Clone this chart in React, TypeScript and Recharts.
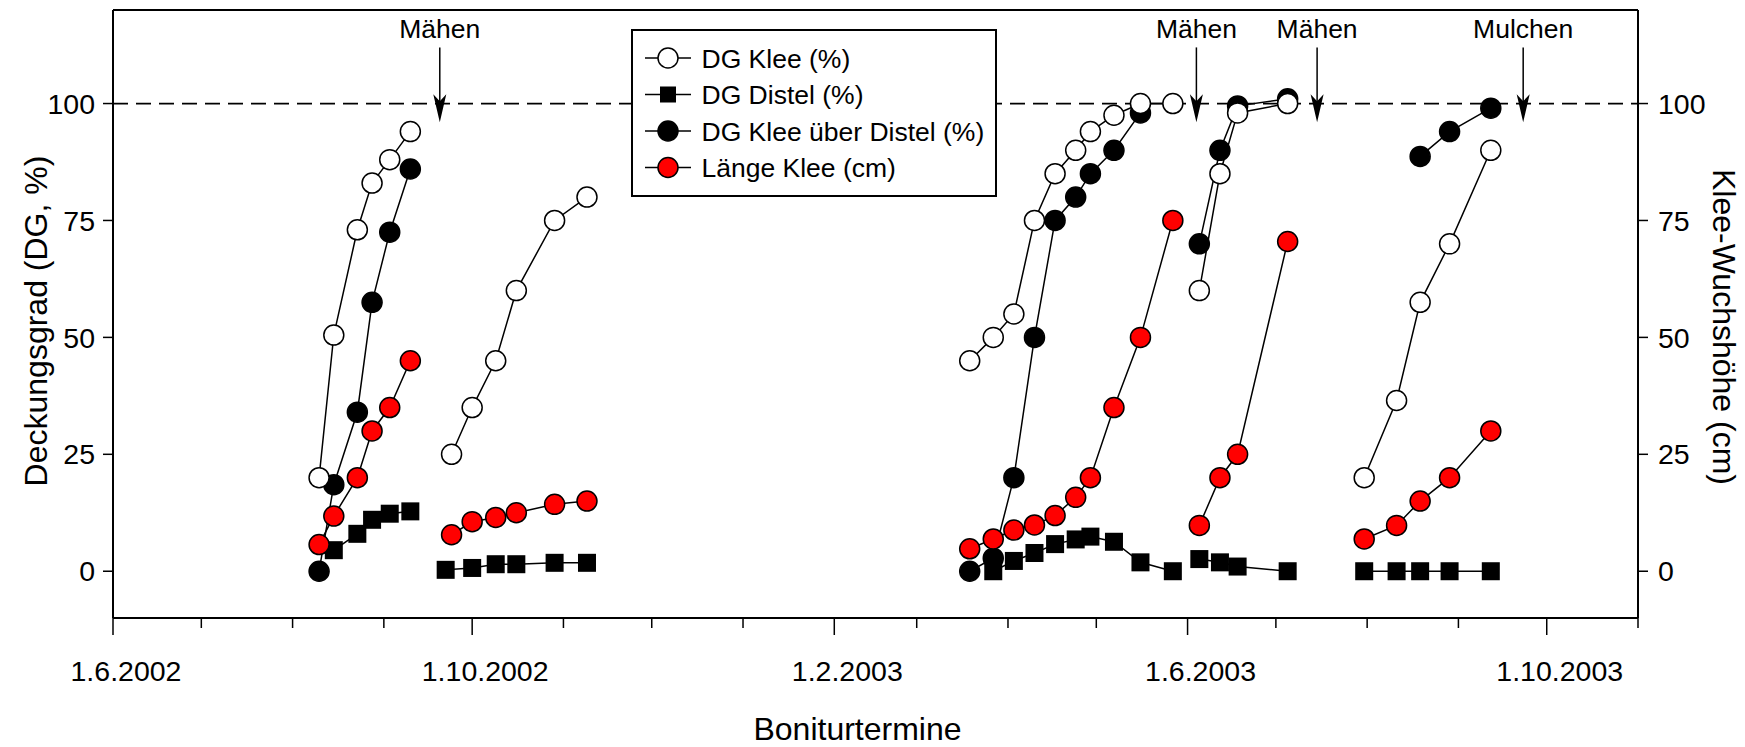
import React from 'react';
import { ComposedChart, Line, XAxis, YAxis, ReferenceLine, Legend } from 'recharts';

const FONT = '"Liberation Sans", Arial, Helvetica, sans-serif';

// ---- sampling dates (Boniturtermine) ----
const dates2002a = ['2002-08-10', '2002-08-15', '2002-08-23', '2002-08-28', '2002-09-03', '2002-09-10'];
const dates2002b = ['2002-09-24', '2002-10-01', '2002-10-09', '2002-10-16', '2002-10-29', '2002-11-09'];
const distelDates2002b = ['2002-09-22', '2002-10-01', '2002-10-09', '2002-10-16', '2002-10-29', '2002-11-09'];
const dates2003a = ['2003-03-19', '2003-03-27', '2003-04-03', '2003-04-10', '2003-04-17', '2003-04-24', '2003-04-29', '2003-05-07', '2003-05-16', '2003-05-27'];
const dates2003b = ['2003-06-05', '2003-06-12', '2003-06-18', '2003-07-05'];
const dates2003c = ['2003-07-31', '2003-08-11', '2003-08-19', '2003-08-29', '2003-09-12'];

// ---- DG Klee (%) ----
const kleeA = [20, 50.5, 73, 83, 88, 94];
const kleeB = [25, 35, 45, 60, 75, 80];
const kleeC = [45, 50, 55, 75, 85, 90, 94, 97.5, 100, 100];
const kleeD = [60, 85, 98, 100];
const kleeE = [20, 36.5, 57.5, 70, 90];

// ---- DG Distel (%) ----
const distelA = [4.5, 8, 11, 12.3, 12.8];
const distelB = [0.3, 0.7, 1.5, 1.5, 1.8, 1.8];
const distelC = [0, 2.2, 3.9, 5.8, 6.8, 7.4, 6.3, 1.9, 0];
const distelD = [2.6, 1.9, 1.0, 0];
const distelE = [0, 0, 0, 0, 0];

// ---- DG Klee über Distel (%) ----
const ueberA = [0, 18.5, 34, 57.5, 72.5, 86];
const ueberC = [0, 2.8, 20, 50, 75, 80, 85, 90, 98];
const ueberD = [70, 90, 99.5, 101];
const ueberE = [88.7, 94, 99];

// ---- Länge Klee (cm) ----
const laengeA = [5.7, 11.8, 20, 30, 35, 45];
const laengeB = [7.8, 10.6, 11.5, 12.5, 14.3, 15];
const laengeC = [4.8, 6.9, 8.8, 9.9, 11.9, 15.8, 20, 35, 50, 75];
const laengeD = [9.8, 20, 25, 70.5];
const laengeE = [6.9, 9.8, 15, 20, 30];

// ---- axes ----
const monthTicks = [
  '2002-06-01', '2002-07-01', '2002-08-01', '2002-09-01', '2002-10-01', '2002-11-01',
  '2002-12-01', '2003-01-01', '2003-02-01', '2003-03-01', '2003-04-01', '2003-05-01',
  '2003-06-01', '2003-07-01', '2003-08-01', '2003-09-01', '2003-10-01', '2003-11-01',
];
const labeledTicks = ['2002-06-01', '2002-10-01', '2003-02-01', '2003-06-01', '2003-10-01'];
const yTicks = [0, 25, 50, 75, 100];
const yDomain = [-10, 120];

// ---- management events ----
const eventDates = ['2002-09-20', '2003-06-04', '2003-07-15', '2003-09-23'];
const eventLabels = ['Mähen', 'Mähen', 'Mähen', 'Mulchen'];

const seriesNames = ['DG Klee (%)', 'DG Distel (%)', 'DG Klee über Distel (%)', 'Länge Klee (cm)'];

const toDay = (s: string) =>
  Date.UTC(Number(s.slice(0, 4)), Number(s.slice(5, 7)) - 1, Number(s.slice(8, 10))) / 86400000;
const seg = (dates: string[], values: number[]) => values.map((v, i) => ({ x: toDay(dates[i]), v }));

const kleeSegs = [seg(dates2002a, kleeA), seg(dates2002b, kleeB), seg(dates2003a, kleeC), seg(dates2003b, kleeD), seg(dates2003c, kleeE)];
const distelSegs = [seg(dates2002a.slice(1), distelA), seg(distelDates2002b, distelB), seg(dates2003a.slice(1), distelC), seg(dates2003b, distelD), seg(dates2003c, distelE)];
const ueberSegs = [seg(dates2002a, ueberA), seg(dates2003a, ueberC), seg(dates2003b, ueberD), seg(dates2003c.slice(2), ueberE)];
const laengeSegs = [seg(dates2002a, laengeA), seg(dates2002b, laengeB), seg(dates2003a, laengeC), seg(dates2003b, laengeD), seg(dates2003c, laengeE)];

const xDomain = [toDay(monthTicks[0]), toDay(monthTicks[monthTicks.length - 1])];
const tickDays = monthTicks.map(toDay);
const labeledDays = labeledTicks.map(toDay);
const fmtDate = (s: string) => `${Number(s.slice(8, 10))}.${Number(s.slice(5, 7))}.${s.slice(0, 4)}`;

const R = 10;

const circleDot = (fill: string) => (p: any) => {
  if (p.cx == null || p.cy == null || p.value == null) return <g key={`e${p.index}`} />;
  return <circle key={`d${p.index}`} cx={p.cx} cy={p.cy} r={R} fill={fill} stroke="#000" strokeWidth={1.5} />;
};
const squareDot = (p: any) => {
  if (p.cx == null || p.cy == null || p.value == null) return <g key={`e${p.index}`} />;
  return <rect key={`s${p.index}`} x={p.cx - 9} y={p.cy - 9} width={18} height={18} fill="#000" />;
};

const XTick = (p: any) => {
  const v = p.payload?.value;
  const idx = labeledDays.indexOf(v);
  const major = idx >= 0;
  return (
    <g>
      <line x1={p.x} x2={p.x} y1={p.y} y2={p.y + (major ? 17 : 10)} stroke="#000" strokeWidth={1.5} />
      {major && (
        <text x={p.x + 13} y={p.y + 63} textAnchor="middle" fontSize={28.5} fontFamily={FONT} fill="#000">
          {fmtDate(labeledTicks[idx])}
        </text>
      )}
    </g>
  );
};

const XTitle = (p: any) => {
  const vb = p.viewBox || { x: 113, y: 618, width: 1525, height: 129 };
  return (
    <text x={vb.x + vb.width / 2 - 18} y={vb.y + 122} textAnchor="middle" fontSize={32} fontFamily={FONT} fill="#000">
      Boniturtermine
    </text>
  );
};
const LeftTitle = (p: any) => {
  const vb = p.viewBox || { x: 0, y: 10, width: 113, height: 608 };
  const cx = vb.x + 47;
  const cy = vb.y + vb.height / 2 + 7;
  return (
    <text x={cx} y={cy} transform={`rotate(-90, ${cx}, ${cy})`} textAnchor="middle" fontSize={32} fontFamily={FONT} fill="#000">
      Deckungsgrad (DG, %)
    </text>
  );
};
const RightTitle = (p: any) => {
  const vb = p.viewBox || { x: 1638, y: 10, width: 107, height: 608 };
  const cx = vb.x + 75;
  const cy = vb.y + vb.height / 2 + 13;
  return (
    <text x={cx} y={cy} transform={`rotate(90, ${cx}, ${cy})`} textAnchor="middle" fontSize={32} fontFamily={FONT} fill="#000">
      Klee-Wuchshöhe (cm)
    </text>
  );
};

const arrowShape = (label: string) => (p: any) => {
  const { x1, y1, x2, y2 } = p;
  if (x1 == null) return <g />;
  return (
    <g>
      <line x1={x1} y1={y1} x2={x2} y2={y2 - 10} stroke="#000" strokeWidth={1.5} />
      <polygon
        points={`${x2 - 6.5},${y2 - 28} ${x2},${y2 - 21} ${x2 + 6.5},${y2 - 28} ${x2},${y2}`}
        fill="#000"
      />
      <text x={x1} y={y1 - 9} textAnchor="middle" fontSize={26.5} fontFamily={FONT} fill="#000">
        {label}
      </text>
    </g>
  );
};

const legendSymbols = [
  (cx: number, cy: number) => <circle cx={cx} cy={cy} r={R} fill="#fff" stroke="#000" strokeWidth={1.5} />,
  (cx: number, cy: number) => <rect x={cx - 8} y={cy - 8} width={16} height={16} fill="#000" />,
  (cx: number, cy: number) => <circle cx={cx} cy={cy} r={R} fill="#000" stroke="#000" strokeWidth={1.5} />,
  (cx: number, cy: number) => <circle cx={cx} cy={cy} r={R} fill="#ff0000" stroke="#000" strokeWidth={1.5} />,
];

const LegendBox = () => (
  <div style={{ width: 366, height: 168, boxSizing: 'border-box', border: '2px solid #000', background: '#fff' }}>
    <svg width={362} height={164} style={{ display: 'block' }}>
      {seriesNames.map((name, i) => {
        const cy = 27 + i * 36.5;
        return (
          <g key={name}>
            <line x1={12} x2={58} y1={cy} y2={cy} stroke="#000" strokeWidth={1.5} />
            {legendSymbols[i](35, cy)}
            <text x={68.5} y={cy + 9.5} fontSize={26.5} fontFamily={FONT} fill="#000">
              {name}
            </text>
          </g>
        );
      })}
    </svg>
  </div>
);

export default function App() {
  return (
    <div>
      <style>{'body{margin:0;}'}</style>
      <ComposedChart
        width={1745}
        height={747}
        margin={{ top: 10, right: 0, bottom: 0, left: 0 }}
        style={{ fontFamily: FONT, background: '#fff' }}
      >
        <XAxis
          dataKey="x"
          type="number"
          domain={xDomain}
          ticks={tickDays}
          interval={0}
          allowDataOverflow
          height={129}
          tickLine={false}
          tickSize={0}
          tickMargin={0}
          tick={(p: any) => <XTick {...p} />}
          axisLine={{ stroke: '#000', strokeWidth: 2 }}
          label={XTitle}
        />
        <YAxis
          yAxisId="left"
          type="number"
          domain={yDomain}
          ticks={yTicks}
          interval={0}
          allowDataOverflow
          width={113}
          tickSize={10}
          tickMargin={8}
          tick={{ fill: '#000', fontSize: 28.5, fontFamily: FONT }}
          tickLine={{ stroke: '#000', strokeWidth: 1.5 }}
          axisLine={{ stroke: '#000', strokeWidth: 2 }}
          label={LeftTitle}
        />
        <YAxis
          yAxisId="right"
          orientation="right"
          type="number"
          domain={yDomain}
          ticks={yTicks}
          interval={0}
          allowDataOverflow
          width={107}
          tickSize={10}
          tickMargin={10}
          tick={{ fill: '#000', fontSize: 28.5, fontFamily: FONT }}
          tickLine={{ stroke: '#000', strokeWidth: 1.5 }}
          axisLine={{ stroke: '#000', strokeWidth: 2 }}
          label={RightTitle}
        />
        <ReferenceLine yAxisId="left" y={120} stroke="#000" strokeWidth={2} />
        <ReferenceLine yAxisId="left" y={100} stroke="#000" strokeWidth={1.8} strokeDasharray="15 8" />
        {eventDates.map((d, i) => (
          <ReferenceLine
            key={`ev${i}`}
            yAxisId="left"
            segment={[{ x: toDay(d), y: 112 }, { x: toDay(d), y: 96 }]}
            shape={arrowShape(eventLabels[i])}
          />
        ))}
        {distelSegs.map((s, i) => (
          <Line key={`dist${i}`} yAxisId="left" data={s} dataKey="v" name={seriesNames[1]} type="linear"
            stroke="#000" strokeWidth={1.5} dot={squareDot} activeDot={false} isAnimationActive={false} legendType="none" />
        ))}
        {ueberSegs.map((s, i) => (
          <Line key={`ueb${i}`} yAxisId="left" data={s} dataKey="v" name={seriesNames[2]} type="linear"
            stroke="#000" strokeWidth={1.5} dot={circleDot('#000')} activeDot={false} isAnimationActive={false} legendType="none" />
        ))}
        {laengeSegs.map((s, i) => (
          <Line key={`len${i}`} yAxisId="right" data={s} dataKey="v" name={seriesNames[3]} type="linear"
            stroke="#000" strokeWidth={1.5} dot={circleDot('#ff0000')} activeDot={false} isAnimationActive={false} legendType="none" />
        ))}
        {kleeSegs.map((s, i) => (
          <Line key={`kle${i}`} yAxisId="left" data={s} dataKey="v" name={seriesNames[0]} type="linear"
            stroke="#000" strokeWidth={1.5} dot={circleDot('#fff')} activeDot={false} isAnimationActive={false} legendType="none" />
        ))}
        <Legend
          layout="vertical"
          align="center"
          verticalAlign="middle"
          content={() => <LegendBox />}
          wrapperStyle={{ left: 631, top: 29, width: 366, height: 168 }}
        />
      </ComposedChart>
    </div>
  );
}
